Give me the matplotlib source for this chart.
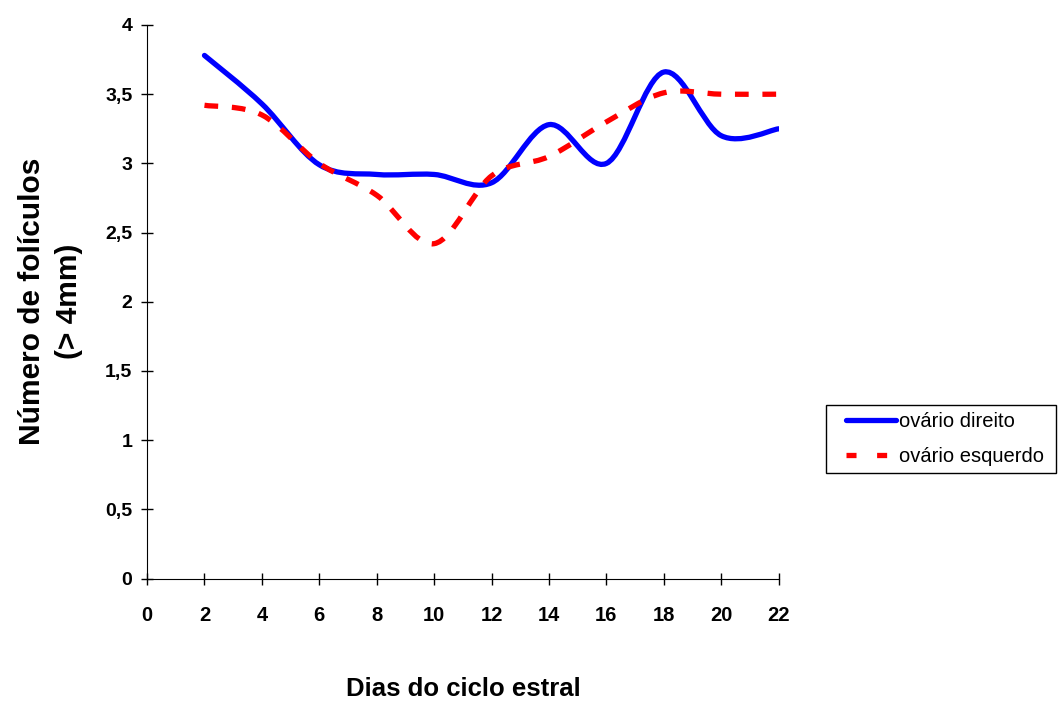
import numpy as np
import matplotlib.pyplot as plt
from matplotlib.path import Path
from matplotlib.patches import PathPatch, Rectangle
from matplotlib.lines import Line2D

# dias do ciclo estral x numero de foliculos (> 4mm)
dias = [2, 4, 6, 8, 10, 12, 14, 16, 18, 20, 22]
direito = [3.78, 3.43, 2.99, 2.92, 2.92, 2.86, 3.28, 3.0, 3.66, 3.2, 3.25]
esquerdo = [3.42, 3.35, 3.0, 2.77, 2.42, 2.91, 3.05, 3.3, 3.51, 3.5, 3.5]
xticks = list(range(0, 23, 2))
yticks = [0, 0.5, 1, 1.5, 2, 2.5, 3, 3.5, 4]
ylabels = ['0', '0,5', '1', '1,5', '2', '2,5', '3', '3,5', '4']


def smooth_path(x, y):
    # bezier segments like excel "smoothed line"
    p = np.column_stack([x, y]).astype(float)
    ext = np.vstack([p[0], p, p[-1]])
    verts = [p[0]]
    codes = [Path.MOVETO]
    for i in range(len(p) - 1):
        p0, p1, p2, p3 = ext[i], ext[i + 1], ext[i + 2], ext[i + 3]
        verts += [p1 + (p2 - p0) / 6, p2 - (p3 - p1) / 6, p2]
        codes += [Path.CURVE4] * 3
    return Path(verts, codes)


plt.rcParams['font.family'] = ['Liberation Sans', 'DejaVu Sans']

W, H = 1058, 702
fig = plt.figure(figsize=(W / 100, H / 100), dpi=100)
ax = fig.add_axes([0.139, 0.1758, 0.597, 0.7886])

blue = '#0000ff'
red = '#ff0000'
ax.add_patch(PathPatch(smooth_path(dias, direito), fill=False, edgecolor=blue,
                       lw=3.8, capstyle='round', joinstyle='round'))
ax.add_patch(PathPatch(smooth_path(dias, esquerdo), fill=False, edgecolor=red,
                       lw=3.8, linestyle=(0, (2.6, 2.6)), capstyle='butt'))

ax.set_xlim(0, 22)
ax.set_ylim(0, 4)
ax.set_xticks(xticks)
ax.set_xticklabels([str(t) for t in xticks], fontsize=14.5, fontweight='bold')
ax.set_yticks(yticks)
ax.set_yticklabels(ylabels, fontsize=14, fontweight='bold')
ax.tick_params(direction='inout', length=9, width=1, pad=6)
ax.tick_params(axis='x', pad=15)
for s in ['top', 'right']:
    ax.spines[s].set_visible(False)

ax.set_xlabel('Dias do ciclo estral', fontsize=18.5, fontweight='bold',
              labelpad=38)
ax.set_ylabel('Número de folículos\n(> 4mm)', fontsize=21.5, fontweight='bold',
              labelpad=16, linespacing=1.4)

# legend frame drawn apart so the inner padding can match
fig.add_artist(Rectangle((826 / W, 1 - 473 / H), 230 / W, 68 / H,
                         transform=fig.transFigure, fill=False,
                         edgecolor='black', lw=1.0))
handles = [Line2D([], [], color=blue, lw=3.8, solid_capstyle='round'),
           Line2D([], [], color=red, lw=3.8, linestyle=(0, (1.9, 3.9)))]
fig.legend(handles, ['ovário direito', 'ovário esquerdo'],
           loc='upper left', bbox_to_anchor=(846 / W, 1 - 412 / H),
           fontsize=14.5, frameon=False, handlelength=2.5,
           handletextpad=0.15, labelspacing=0.8, borderpad=0,
           borderaxespad=0)

fig.savefig('out.png', dpi=100)
